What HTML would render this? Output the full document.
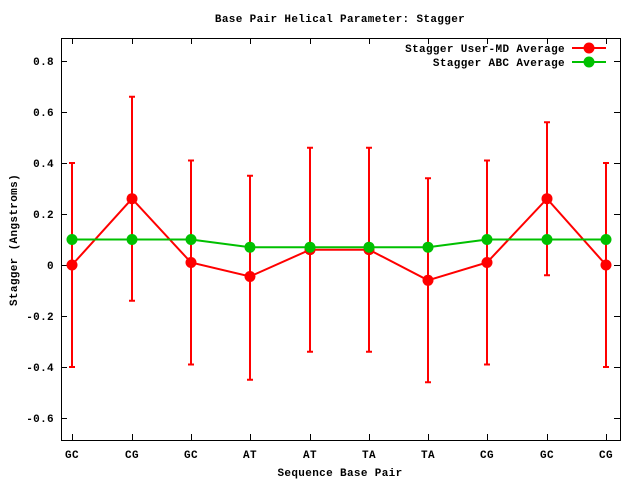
<!DOCTYPE html>
<html><head><style>body{margin:0;background:#fff}svg{display:block}text{font-family:"Liberation Mono",monospace;font-weight:bold;font-size:11px;letter-spacing:0.35px;fill:#000}</style></head>
<body>
<svg width="640" height="480" xmlns="http://www.w3.org/2000/svg">
<rect width="640" height="480" fill="#fff"/>
<text x="340" y="22" text-anchor="middle">Base Pair Helical Parameter: Stagger</text>
<rect x="61.5" y="38.5" width="559" height="402" fill="none" stroke="#000" stroke-width="1"/>
<g stroke="#000" stroke-width="1">
<path d="M61 61.5h6M620 61.5h-6M61 112.5h6M620 112.5h-6M61 163.5h6M620 163.5h-6M61 214.5h6M620 214.5h-6M61 265.5h6M620 265.5h-6M61 316.5h6M620 316.5h-6M61 367.5h6M620 367.5h-6M61 418.5h6M620 418.5h-6"/>
<path d="M72.5 440v-6M72.5 38v6M132.5 440v-6M132.5 38v6M191.5 440v-6M191.5 38v6M250.5 440v-6M250.5 38v6M310.5 440v-6M310.5 38v6M369.5 440v-6M369.5 38v6M428.5 440v-6M428.5 38v6M487.5 440v-6M487.5 38v6M547.5 440v-6M547.5 38v6M606.5 440v-6M606.5 38v6"/>
</g>
<g text-anchor="end">
<text x="54" y="65">0.8</text><text x="54" y="116">0.6</text><text x="54" y="167">0.4</text><text x="54" y="218">0.2</text><text x="54" y="269">0</text><text x="54" y="320">-0.2</text><text x="54" y="371">-0.4</text><text x="54" y="422">-0.6</text>
</g>
<g text-anchor="middle">
<text x="72" y="458">GC</text><text x="132" y="458">CG</text><text x="191" y="458">GC</text><text x="250" y="458">AT</text><text x="310" y="458">AT</text><text x="369" y="458">TA</text><text x="428" y="458">TA</text><text x="487" y="458">CG</text><text x="547" y="458">GC</text><text x="606" y="458">CG</text>
<text x="340" y="476">Sequence Base Pair</text>
</g>
<text transform="translate(17,240) rotate(-90)" text-anchor="middle">Stagger (Angstroms)</text>
<g stroke="#f00" stroke-width="2" fill="none">
<path d="M72 163V367M69 163h6M69 367h6"/>
<path d="M132 96.7V300.7M129 96.7h6M129 300.7h6"/>
<path d="M191 160.5V364.5M188 160.5h6M188 364.5h6"/>
<path d="M250 175.7V379.7M247 175.7h6M247 379.7h6"/>
<path d="M310 147.7V351.7M307 147.7h6M307 351.7h6"/>
<path d="M369 147.7V351.7M366 147.7h6M366 351.7h6"/>
<path d="M428 178.3V382.3M425 178.3h6M425 382.3h6"/>
<path d="M487 160.5V364.5M484 160.5h6M484 364.5h6"/>
<path d="M547 122.2V275.2M544 122.2h6M544 275.2h6"/>
<path d="M606 163V367M603 163h6M603 367h6"/>
<polyline points="72,265 132,198.7 191,262.5 250,276.5 310,249.7 369,249.7 428,280.3 487,262.5 547,198.7 606,265"/>
<path d="M572 48h34"/>
</g>
<g fill="#f00">
<circle cx="72" cy="265" r="5.5"/><circle cx="132" cy="198.7" r="5.5"/><circle cx="191" cy="262.5" r="5.5"/><circle cx="250" cy="276.5" r="5.5"/><circle cx="310" cy="249.7" r="5.5"/><circle cx="369" cy="249.7" r="5.5"/><circle cx="428" cy="280.3" r="5.5"/><circle cx="487" cy="262.5" r="5.5"/><circle cx="547" cy="198.7" r="5.5"/><circle cx="606" cy="265" r="5.5"/><circle cx="589" cy="48" r="5.5"/>
</g>
<g stroke="#00c000" stroke-width="2" fill="none">
<polyline points="72,239.5 132,239.5 191,239.5 250,247.2 310,247.2 369,247.2 428,247.2 487,239.5 547,239.5 606,239.5"/>
<path d="M572 62h34"/>
</g>
<g fill="#00c000">
<circle cx="72" cy="239.5" r="5.5"/><circle cx="132" cy="239.5" r="5.5"/><circle cx="191" cy="239.5" r="5.5"/><circle cx="250" cy="247.2" r="5.5"/><circle cx="310" cy="247.2" r="5.5"/><circle cx="369" cy="247.2" r="5.5"/><circle cx="428" cy="247.2" r="5.5"/><circle cx="487" cy="239.5" r="5.5"/><circle cx="547" cy="239.5" r="5.5"/><circle cx="606" cy="239.5" r="5.5"/><circle cx="589" cy="62" r="5.5"/>
</g>
<g text-anchor="end">
<text x="565" y="52">Stagger User-MD Average</text>
<text x="565" y="66">Stagger ABC Average</text>
</g>
</svg>
</body></html>
